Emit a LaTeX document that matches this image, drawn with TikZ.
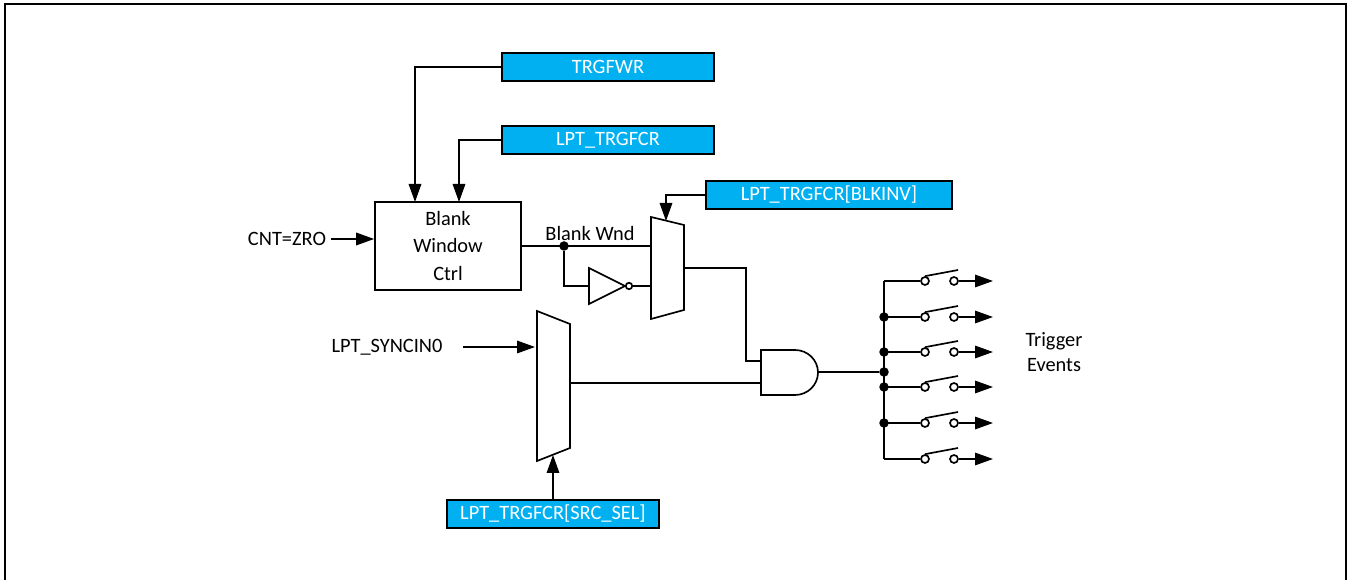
\documentclass[tikz,border=0pt]{standalone}
\usepackage{fontspec}
\setmainfont{Carlito}
\usetikzlibrary{arrows.meta}
\tikzset{
  x=0.02cm,y=-0.02cm,
  wire/.style={black,line width=0.95pt},
  sig/.style={wire,-{Triangle[length=0.36cm,width=0.25cm]}},
  regbox/.style={draw=black,line width=1.1pt,fill=regblue,minimum height=0.56cm,inner sep=0pt,text=white,font=\fontsize{11.6}{14}\selectfont},
  lbl/.style={font=\fontsize{11.6}{14.2}\selectfont,inner sep=0pt,align=center},
  dot/.style={circle,fill=black,inner sep=0pt,minimum size=0.19cm},
  pin/.style={circle,draw=black,fill=white,line width=0.95pt,inner sep=0pt,minimum size=0.16cm},
}
\definecolor{regblue}{RGB}{0,176,240}
\begin{document}
\begin{tikzpicture}
\useasboundingbox (0,0) rectangle (1353,580);
% outer frame
\draw[black,line width=1.3pt] (5,580) -- (5,4) -- (1346,4) -- (1346,580);

% register boxes
\node[regbox,minimum width=4.24cm] (trgfwr) at (608,67) {TRGFWR};
\node[regbox,minimum width=4.24cm] (trgfcr) at (608,140) {LPT\_TRGFCR};
\node[regbox,minimum width=4.92cm] (blkinv) at (829,195) {LPT\_TRGFCR[BLKINV]};
\node[regbox,minimum width=4.24cm] (srcsel) at (553,514) {LPT\_TRGFCR[SRC\_SEL]};

% blank window block
\node[draw=black,wire,fill=white,minimum width=2.92cm,minimum height=1.76cm,lbl] (ctrl) at (448,246) {Blank\\[1.7pt]Window\\[1.7pt]Ctrl};
\node[lbl] (cnt) at (287,239) {CNT=ZRO};
\node[lbl] (wnd) at (590,234) {Blank Wnd};
\node[lbl] (syncin) at (387,347) {LPT\_SYNCIN0};
\node[lbl] (events) at (1054,352) {Trigger\\Events};

% muxes
\draw[wire,fill=white] (651,217) -- (684,225) -- (684,310) -- (651,319) -- cycle;
\draw[wire,fill=white] (537,311) -- (570,324) -- (570,448) -- (537,461) -- cycle;
\coordinate (muxa) at (651,246);
\coordinate (muxb) at (651,286);
\coordinate (muxc) at (666,221);
\coordinate (muxd) at (684,268);
\coordinate (muxe) at (535,347);
\coordinate (muxf) at (553,455);
\coordinate (muxg) at (570,383);

% inverter
\draw[wire,fill=white] (589,268) -- (625,286) -- (589,304) -- cycle;
\node[pin,minimum size=0.13cm] (notpin) at (629,286) {};
\coordinate (notin) at (589,286);

% and gate
\draw[wire,fill=white] (761,350) -- (795,350) arc (-90:90:23 and 22.5) -- (761,395) -- cycle;
\coordinate (anda) at (761,361);
\coordinate (andb) at (761,383);
\coordinate (andout) at (818,372);

% wires
\draw[sig] (trgfwr.west) -| (415,202);
\draw[sig] (trgfcr.west) -| (459,202);
\draw[sig] (blkinv.west) -| (muxc);
\draw[sig] (srcsel.north) -- (muxf);
\draw[sig] (331,239) -- (ctrl.west |- cnt);
\draw[sig] (463,347) -- (muxe);
\draw[wire] (ctrl.east |- muxa) -- (muxa);
\node[dot] (wnddot) at (564,246) {};
\draw[wire] (wnddot) |- (notin);
\draw[wire] (notpin) -- (muxb);
\draw[wire] (muxd) -| (746,361) -- (anda);
\draw[wire] (muxg) -- (andb);

% switches
\coordinate (bustop) at (884,281);
\coordinate (busbot) at (884,459);
\draw[wire] (bustop) -- (busbot);
\node[dot] (outdot) at (884,372) {};
\draw[wire] (andout) -- (outdot);
\foreach \n/\y in {1/281,2/317,3/352,4/387,5/423,6/459}{
  \node[pin] (pa\n) at (925,\y) {};
  \node[pin] (pb\n) at (954,\y) {};
  \coordinate (tap\n) at (884,\y);
  \coordinate (end\n) at (993,\y);
  \coordinate (arm\n) at (958,\y-11);
  \draw[wire] (tap\n) -- (pa\n);
  \draw[wire] (pa\n.north) -- (arm\n);
  \draw[sig] (pb\n) -- (end\n);
}
\foreach \n in {2,3,4,5}{
  \node[dot] at (tap\n) {};
}
\end{tikzpicture}
\end{document}
